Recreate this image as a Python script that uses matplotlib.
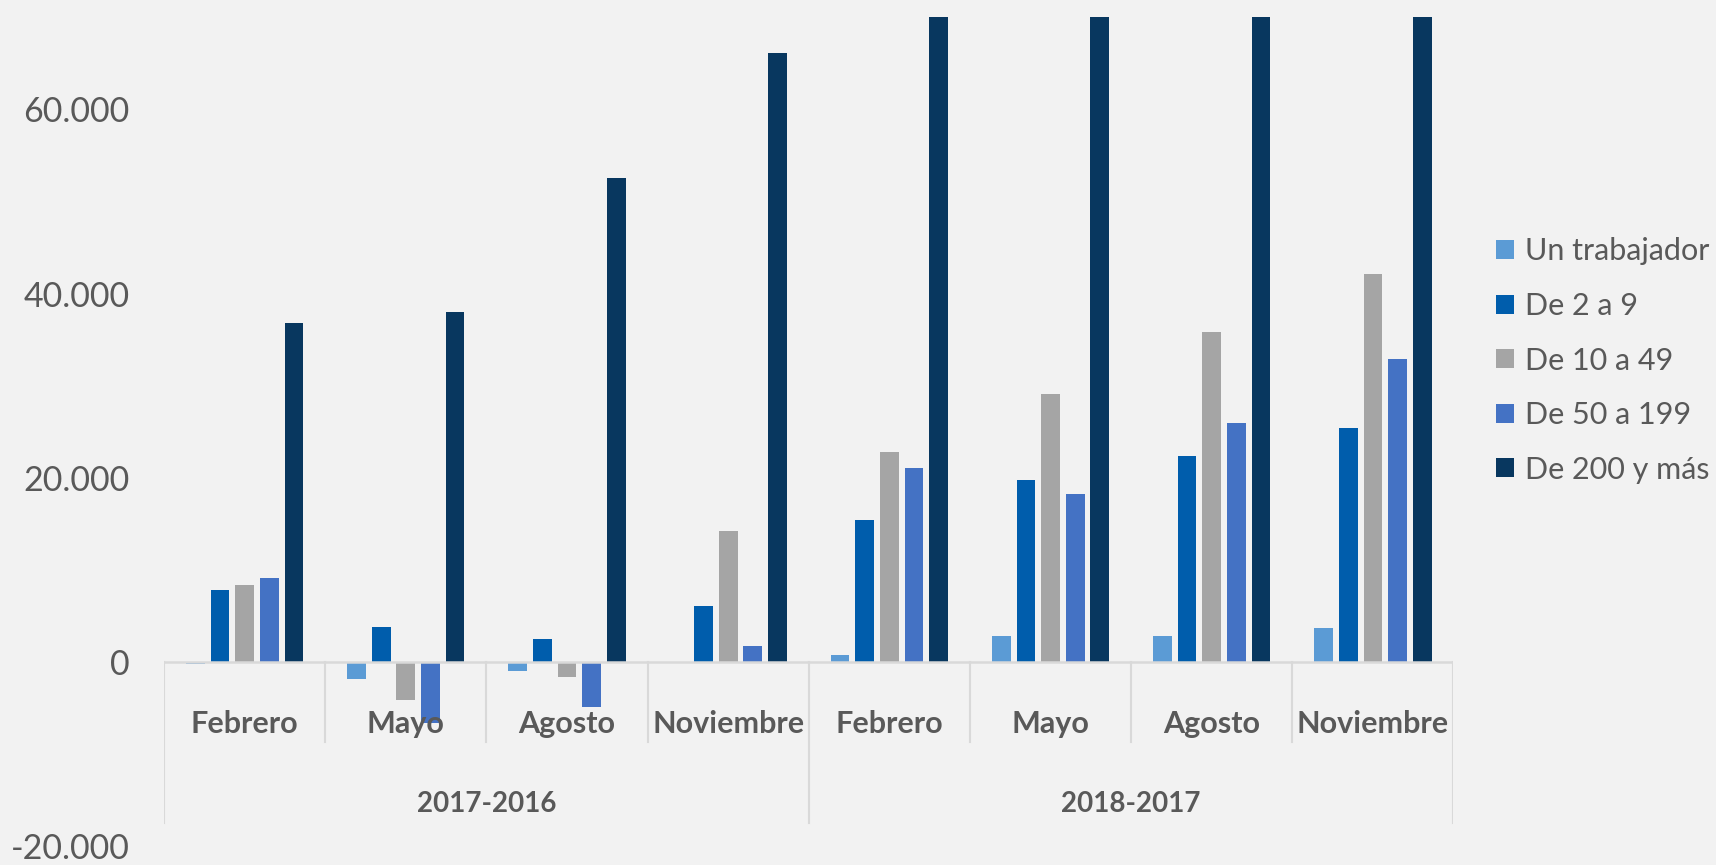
import matplotlib
matplotlib.use("Agg")
import matplotlib.pyplot as plt
from matplotlib.ticker import FuncFormatter
import numpy as np

# data (2018 "De 200 y más" bars run off the top)
months = ["Febrero", "Mayo", "Agosto", "Noviembre", "Febrero", "Mayo", "Agosto", "Noviembre"]
periods = ["2017-2016", "2018-2017"]
series = ["Un trabajador", "De 2 a 9", "De 10 a 49", "De 50 a 199", "De 200 y más"]

un_trabajador = [-250, -1900, -1000, -50, 700, 2800, 2800, 3700]
de_2_a_9 = [7800, 3800, 2500, 6100, 15400, 19700, 22300, 25400]
de_10_a_49 = [8300, -4200, -1700, 14200, 22800, 29100, 35800, 42100]
de_50_a_199 = [9100, -6600, -4900, 1700, 21100, 18200, 25900, 32900]
de_200_y_mas = [36800, 38000, 52500, 66100, 80000, 85000, 90000, 95000]

colors = ["#5b9bd5", "#005dac", "#a5a5a5", "#4472c4", "#08375f"]
bg = "#f2f2f2"
txt = "#595959"
grid_c = "#d9d9d9"

plt.rcParams['font.family'] = ['Lato', 'DejaVu Sans']

fig = plt.figure(figsize=(17.16, 8.65), dpi=100, facecolor=bg)
ax = fig.add_axes([0.0956, 0.022, 0.7514, 0.958])
ax.set_facecolor(bg)

x = np.arange(len(months))
pitch = 0.153
width = 0.116
values = [un_trabajador, de_2_a_9, de_10_a_49, de_50_a_199, de_200_y_mas]
for i, (name, vals) in enumerate(zip(series, values)):
    ax.bar(x + (i - 2) * pitch, vals, width, color=colors[i], label=name, zorder=2)

ax.set_xlim(-0.5, len(months) - 0.5)
ax.set_ylim(-20000, 70000)
ax.set_yticks([-20000, 0, 20000, 40000, 60000])
ax.yaxis.set_major_formatter(FuncFormatter(lambda v, p: f"{int(v):,}".replace(",", ".")))
ax.tick_params(axis='y', length=0, pad=25, labelsize=24.5, labelcolor=txt)
ax.set_xticks([])
for s in ax.spines.values():
    s.set_visible(False)

# zero line and multi-level category axis
ax.axhline(0, color=grid_c, lw=1.8, zorder=3)
month_bottom = -8700
year_bottom = -17500
for k in range(len(months) + 1):
    xb = k - 0.5
    if k % 4 == 0:
        ax.plot([xb, xb], [0, year_bottom], color=grid_c, lw=1.5, zorder=1)
    else:
        ax.plot([xb, xb], [0, month_bottom], color=grid_c, lw=1.5, zorder=1)

for k, m in enumerate(months):
    ax.text(k, -6800, m, ha='center', va='center', fontsize=22,
            fontweight='bold', color=txt, zorder=4)
for j, p in enumerate(periods):
    ax.text(j * 4 + 1.5, -15400, p, ha='center', va='center', fontsize=20,
            fontweight='bold', color=txt)

leg = ax.legend(loc='upper left', bbox_to_anchor=(0.872, 0.7255), bbox_transform=fig.transFigure,
                frameon=False, fontsize=22, handlelength=0.58, handleheight=0.58,
                handletextpad=0.35, labelspacing=0.87, borderpad=0, borderaxespad=0)
for t in leg.get_texts():
    t.set_color(txt)

fig.savefig("out.png", dpi=100, facecolor=bg)
